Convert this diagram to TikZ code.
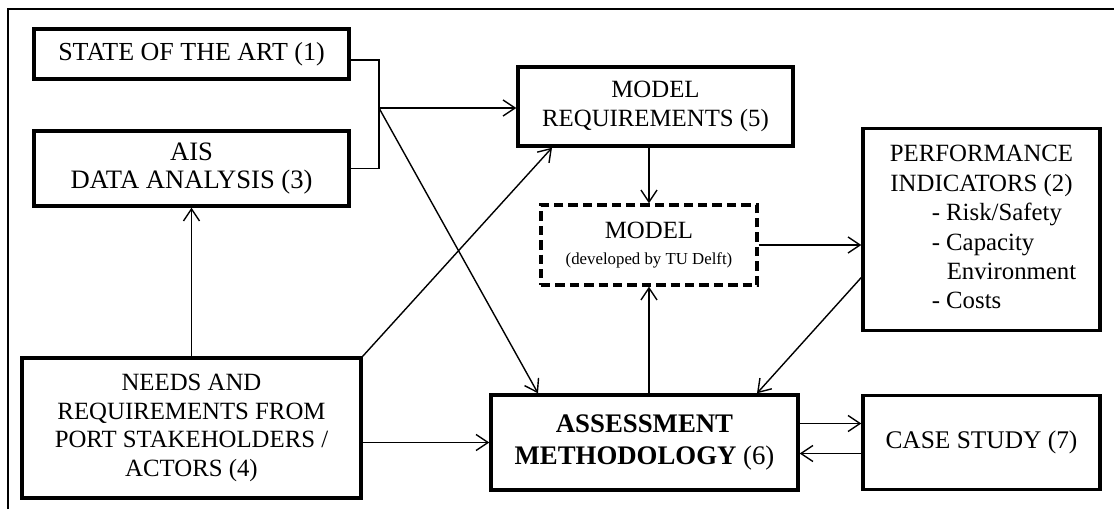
\documentclass[tikz,border=0pt]{standalone}
\usepackage{fontspec}
\setmainfont{Liberation Serif}
\usetikzlibrary{arrows.meta, positioning}

\begin{document}
\begin{tikzpicture}[->, >={Straight Barb[length=6pt,width=8pt]}, on grid, line width=0.7pt,
    font=\fontsize{12.4}{14.2}\selectfont]
      \tikzstyle{block}=[draw=black, line width=1.7pt, align=center, inner sep=2pt, fill=white]
      \tikzstyle{dashblock}=[block, dash pattern=on 4.7pt off 2.5pt]
      \useasboundingbox (0,0) rectangle (557pt,-254.5pt);
      % frame
      \draw[-] (4pt,-254.5pt) -- (4pt,-4.5pt) -- (557pt,-4.5pt);
      % boxes
      \node[block, minimum width=157.5pt, minimum height=25pt, font=\fontsize{13}{14.2}\selectfont] (state) at (95.75pt,-27pt) {STATE OF THE ART (1)};
      \node[block, minimum width=157.5pt, minimum height=37.5pt, font=\fontsize{13.3}{14.2}\selectfont] (ais) [below=57.25pt of state] {AIS\\DATA ANALYSIS (3)};
      \node[block, minimum width=169.5pt, minimum height=70pt] (needs) [below=129.75pt of ais] {NEEDS AND\\REQUIREMENTS FROM\\PORT STAKEHOLDERS /\\ACTORS (4)};
      \node[block, minimum width=153.5pt, minimum height=47.5pt, font=\fontsize{13.4}{15.8}\selectfont] (assess) [below right=7.25pt and 226.5pt of needs] {\textbf{ASSESSMENT}\\\textbf{METHODOLOGY} (6)};
      \node[block, minimum width=118.5pt, minimum height=47pt, font=\fontsize{12.7}{14.2}\selectfont] (case) [right=168.5pt of assess] {CASE STUDY (7)};
      \node[block, minimum width=118.5pt, minimum height=101pt, font=\fontsize{12.4}{14.7}\selectfont] (perf) [above=106.5pt of case] {\begin{tabular}{@{}l@{}}
        \multicolumn{1}{@{}c@{}}{PERFORMANCE}\\
        \multicolumn{1}{@{}c@{}}{INDICATORS (2)}\\
        \hspace{22.5pt}- Risk/Safety\\
        \hspace{22.5pt}- Capacity\\
        \hspace{30pt}Environment\\
        \hspace{22.5pt}- Costs
      \end{tabular}};
      \node[dashblock, minimum width=108pt, minimum height=40pt] (model) [above right=98.75pt and 2.25pt of assess] {MODEL\\[-1pt]{\fontsize{8.4}{10}\selectfont (developed by TU Delft)}};
      \node[block, minimum width=137.5pt, minimum height=39.5pt] (mreq) [above right=69.25pt and 3.25pt of model] {MODEL\\REQUIREMENTS (5)};
      % connectors
      \coordinate (fork) at (189.5pt,-54pt);
      \draw[-] ([yshift=-3pt]state.east) -| (fork) |- (ais.east);
      \draw (fork) -- (fork -| mreq.west);
      \draw (fork) -- ([xshift=-53.25pt]assess.north);
      \draw (needs.north east) -- ([xshift=-51.75pt]mreq.south);
      \draw (needs.north) -- (ais.south);
      \draw (needs.east |- assess.west) -- (assess.west);
      \draw (model.north |- mreq.south) -- (model.north);
      \draw (model.south |- assess.north) -- (model.south);
      \draw (model.east) -- (model.east -| perf.west);
      \draw ([yshift=-24pt]perf.west) -- ([xshift=56.25pt]assess.north);
      \draw ([yshift=9.5pt]assess.east) -- ([yshift=9.5pt]case.west);
      \draw ([yshift=-5.5pt]case.west) -- ([yshift=-5.5pt]assess.east);
\end{tikzpicture}
\end{document}
